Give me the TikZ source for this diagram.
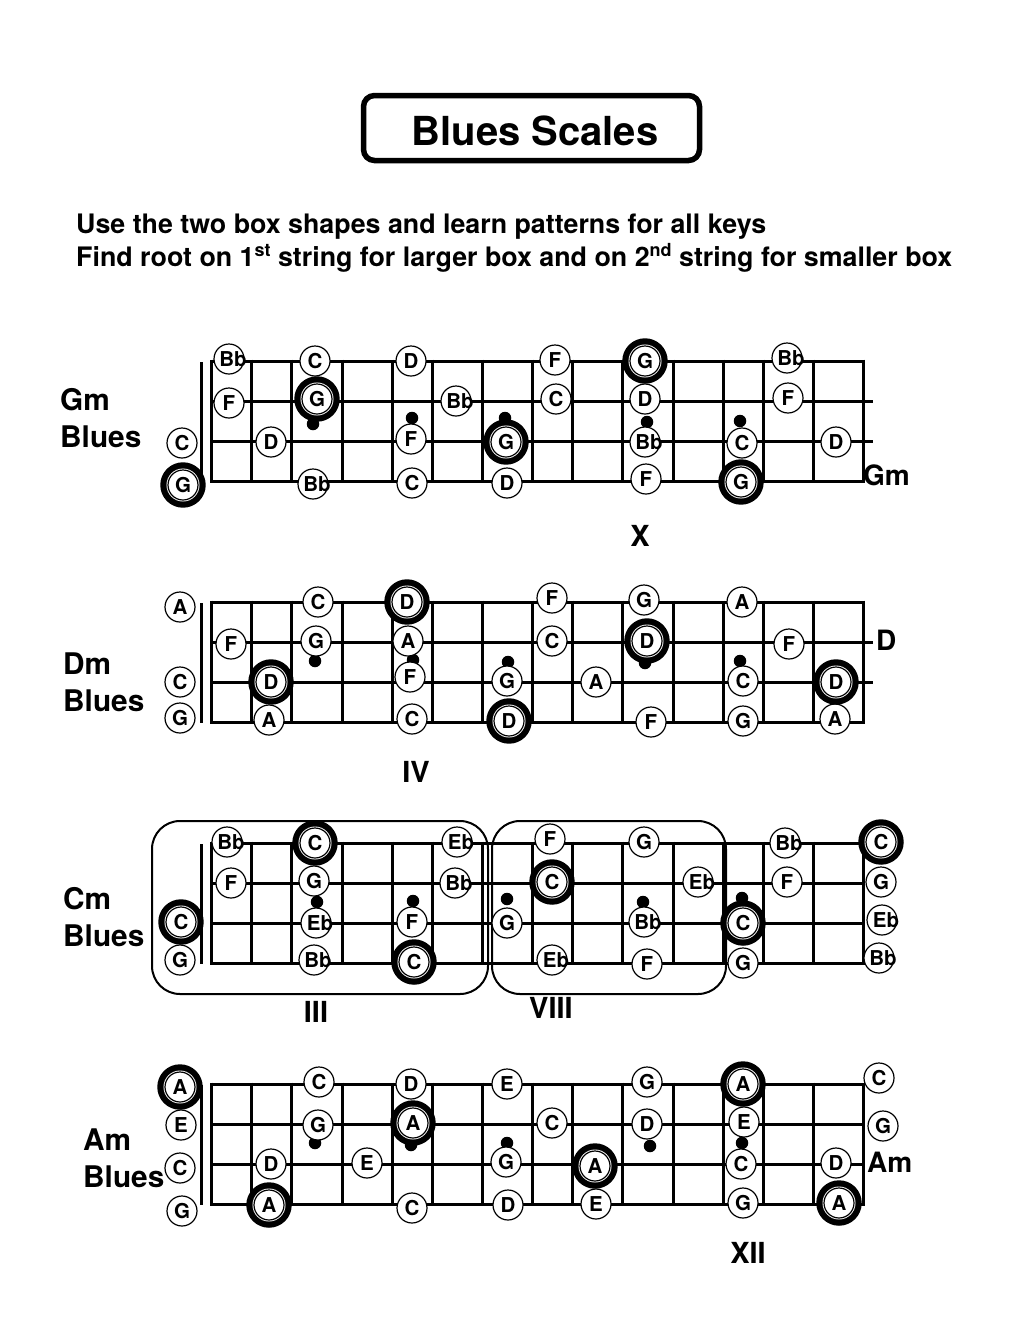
\documentclass[tikz,border=0pt]{standalone}
\usepackage{fontspec}
\setmainfont{TeX Gyre Heros}
\tikzset{
note/.style={
% The shape:
circle,
draw=black,
fill=white,
line width=1.2pt,
minimum size=30pt,
inner sep=0pt,
font=\bfseries\fontsize{20.5}{20.5}\selectfont
},
root/.style={
note,
preaction={draw,line width=15.4pt},
preaction={draw=white,line width=3pt}
},
fingerdot/.style={circle,fill=black,minimum size=12.5pt,inner sep=0pt},
wire/.style={line width=3pt},
keyname/.style={align=left,anchor=west,inner sep=0pt,font=\bfseries\fontsize{29.8}{37}\selectfont},
sidename/.style={anchor=base west,inner sep=0pt,font=\bfseries\fontsize{28}{28}\selectfont},
posname/.style={inner sep=0pt,font=\bfseries\fontsize{29}{29}\selectfont},
posbox/.style={draw=black,line width=2pt,rounded corners=28pt,inner sep=0pt},
headline/.style={anchor=base west,inner sep=0pt,font=\bfseries\fontsize{26.8}{26.8}\selectfont}
}
\newcommand{\ordinal}[1]{\raisebox{10pt}{\fontsize{18}{18}\selectfont #1}}
% Flat names stick out of their circle on the right
\newcommand{\flatname}[1]{\makebox[0pt]{\hspace{8pt}#1}}
% One fretboard, top string at #1
\newcommand{\fretboard}[1]{
\foreach \fretx in {211,251,291,342,392,432,482,532,572,622,673,723,763,813,863}
\draw[wire] (\fretx,#1-1.5) -- (\fretx,#1+122);
\foreach \stringy in {0,40,80,120.5}
\draw[wire] (211,#1+\stringy) -- (863,#1+\stringy);
\draw[wire] (201,#1+1) -- (201,#1+121);
}
\begin{document}
\begin{tikzpicture}[x=1pt,y=-1pt]
\useasboundingbox (0,0) rectangle (1024,1325);
\node (titlebox) [draw=black,line width=5.5pt,rounded corners=11pt,minimum width=336pt,minimum height=65pt] at (531.5,128) {};
\node (title) [anchor=base,inner sep=0pt,font=\bfseries\fontsize{40}{40}\selectfont] at (535,145) {Blues Scales};
\node (line1) [headline] at (76,233) {Use the two box shapes and learn patterns for all keys};
\node (line2) [headline] at (76,266) {Find root on 1\ordinal{st} string for larger box and on 2\ordinal{nd} string for smaller box};
% Gm row:
\fretboard{361}
\draw[wire] (863,401) -- (873,401) (863,441) -- (873,441);
\foreach \dotx/\doty [count=\i] in {313/424,412/418,505/418,647/422,740/421}
\node (gmdot\i) [fingerdot] at (\dotx,\doty) {};
\foreach \notex/\notey/\notename [count=\i] in {229/359/\flatname{Bb},315/361/C,411/361/D,555/360/F,787/358/\flatname{Bb},229/403/F,456/401/\flatname{Bb},556/399/C,645/399/D,788/398/F,182/443/C,271/442/D,411/439/F,645/442/\flatname{Bb},742/443/C,836/442/D,313/484/\flatname{Bb},412/483/C,507/483/D,646/479/F}
\node (gm\i) [note] at (\notex,\notey) {\notename};
\foreach \notex/\notey [count=\i] in {645/361,317/399,506/442,183/485,741/482}
\node (gmroot\i) [root] at (\notex,\notey) {G};
\node (gmname) [keyname] at (60,418) {Gm\\Blues};
\node (gmright) [sidename] at (863,485) {Gm};
\node (gmpos) [posname] at (640,536) {X};
% Dm row:
\fretboard{602}
\draw[wire] (863,642) -- (873,642) (863,682) -- (873,682);
\foreach \dotx/\doty [count=\i] in {315/661,413/660,508/662,645/663,740/661}
\node (dmdot\i) [fingerdot] at (\dotx,\doty) {};
\foreach \notex/\notey/\notename [count=\i] in {180/607/A,318/602/C,552/598/F,644/600/G,742/602/A,231/644/F,316/641/G,408/641/A,552/641/C,789/644/F,180/682/C,410/677/F,507/681/G,596/682/A,743/681/C,180/718/G,269/720/A,412/719/C,651/722/F,743/721/G,835/719/A}
\node (dm\i) [note] at (\notex,\notey) {\notename};
\foreach \notex/\notey [count=\i] in {407/602,647/641,271/682,836/682,509/721}
\node (dmroot\i) [root] at (\notex,\notey) {D};
\node (dmname) [keyname] at (63,682) {Dm\\Blues};
\node (dmright) [sidename] at (876,650) {D};
\node (dmpos) [posname] at (416,772) {IV};
% Cm row:
\fretboard{843}
\node (lowbox) [posbox,minimum width=336pt,minimum height=173pt] at (320,907.5) {};
\node (highbox) [posbox,minimum width=234pt,minimum height=173pt] at (609,907.5) {};
\foreach \dotx/\doty [count=\i] in {317/902,413/901,507/899,643/902,742/898}
\node (cmdot\i) [fingerdot] at (\dotx,\doty) {};
\foreach \notex/\notey/\notename [count=\i] in {227/842/\flatname{Bb},457/842/\flatname{Eb},550/839/F,644/842/G,785/843/\flatname{Bb},231/883/F,314/881/G,455/883/\flatname{Bb},698/882/\flatname{Eb},787/882/F,881/882/G,316/923/\flatname{Eb},412/922/F,507/923/G,644/922/\flatname{Bb},882/920/\flatname{Eb},180/960/G,314/960/\flatname{Bb},552/960/\flatname{Eb},647/964/F,743/963/G,879/958/\flatname{Bb}}
\node (cm\i) [note] at (\notex,\notey) {\notename};
\foreach \notex/\notey [count=\i] in {315/843,881/842,552/882,181/922,743/923,414/962}
\node (cmroot\i) [root] at (\notex,\notey) {C};
\node (cmname) [keyname] at (63,917) {Cm\\Blues};
\node (cmpos1) [posname] at (316,1012) {III};
\node (cmpos2) [posname] at (551,1008) {VIII};
% Am row:
\fretboard{1084}
\foreach \dotx/\doty [count=\i] in {315/1143,411/1145,507/1143,650/1146,742/1143}
\node (amdot\i) [fingerdot] at (\dotx,\doty) {};
\foreach \notex/\notey/\notename [count=\i] in {319/1082/C,411/1084/D,507/1084/E,647/1082/G,879/1078/C,181/1125/E,318/1125/G,552/1123/C,647/1124/D,744/1122/E,883/1126/G,180/1168/C,271/1164/D,367/1163/E,506/1162/G,741/1164/C,836/1163/D,182/1211/G,412/1208/C,508/1205/D,596/1204/E,743/1203/G}
\node (am\i) [note] at (\notex,\notey) {\notename};
\foreach \notex/\notey [count=\i] in {180/1087,743/1084,413/1123,595/1166,269/1205,839/1203}
\node (amroot\i) [root] at (\notex,\notey) {A};
\node (amname) [keyname] at (83,1158) {Am\\Blues};
\node (amright) [sidename] at (867,1172) {Am};
\node (ampos) [posname] at (748,1253) {XII};
\end{tikzpicture}
\end{document}
